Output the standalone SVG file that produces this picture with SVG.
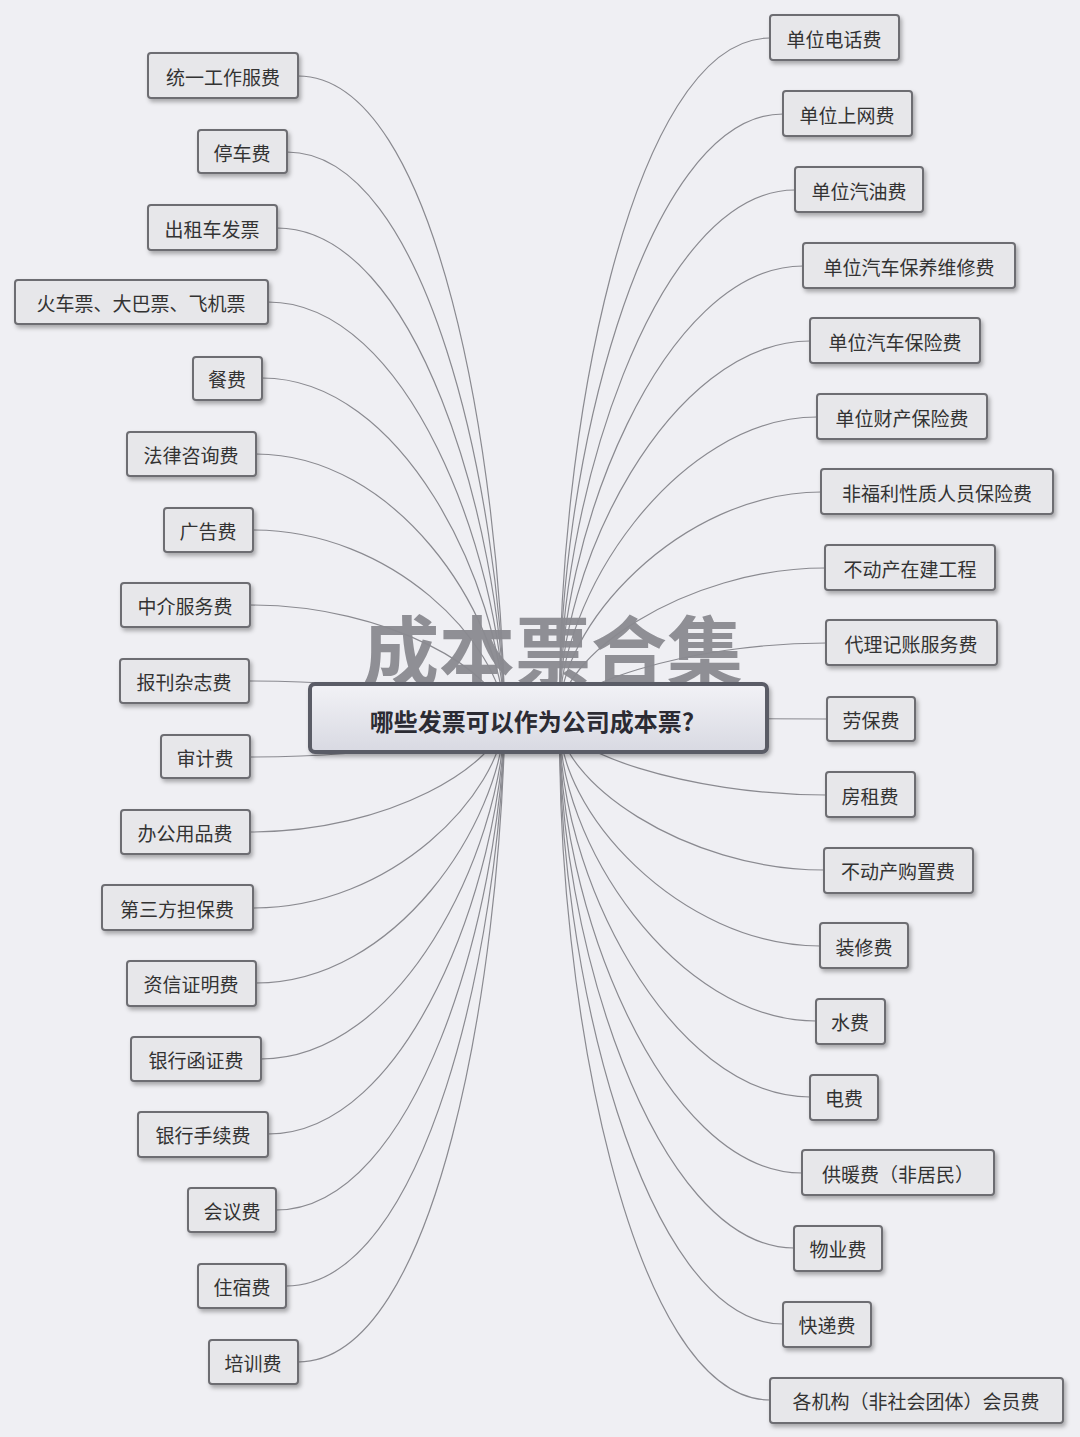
<svg xmlns="http://www.w3.org/2000/svg" width="1080" height="1437" viewBox="0 0 1080 1437">
<defs>
<filter id="sh" x="-10%" y="-20%" width="130%" height="150%"><feDropShadow dx="2" dy="3" stdDeviation="2" flood-color="#000" flood-opacity="0.3"/></filter>
<linearGradient id="cg" x1="0" y1="0" x2="0" y2="1"><stop offset="0" stop-color="#f2f2f6"/><stop offset="1" stop-color="#d8d9e2"/></linearGradient>
</defs>
<style>
.n rect{fill:#e7e7ea;stroke:#6d6d72;stroke-width:2;filter:url(#sh)}
.n text{font-family:"Noto Sans CJK SC","Liberation Sans",sans-serif;font-size:19px;fill:#333;text-anchor:middle;dominant-baseline:central}
#edges path{fill:none;stroke:#8a8a90;stroke-width:1.2}
</style>
<rect width="1080" height="1437" fill="#efeff3"/>
<text x="553" y="680" font-family="Noto Sans CJK SC,sans-serif" font-size="76" font-weight="bold" fill="#77777d" fill-opacity="0.8" text-anchor="middle">成本票合集</text>
<g id="edges">
<path d="M298,76 C438,76 500,461 505,718"/>
<path d="M287,152 C427,152 500,492 505,718"/>
<path d="M277,228 C417,228 500,522 505,718"/>
<path d="M268,302 C408,302 500,552 505,718"/>
<path d="M262,378 C402,378 500,582 505,718"/>
<path d="M256,454 C396,454 500,612 505,718"/>
<path d="M253,530 C393,530 500,643 505,718"/>
<path d="M250,605 C390,605 500,673 505,718"/>
<path d="M249,681 C389,681 500,703 505,718"/>
<path d="M250,757 C390,757 500,734 505,718"/>
<path d="M250,832 C390,832 500,764 505,718"/>
<path d="M253,908 C393,908 500,794 505,718"/>
<path d="M256,983 C396,983 500,824 505,718"/>
<path d="M261,1059 C401,1059 500,854 505,718"/>
<path d="M268,1134 C408,1134 500,884 505,718"/>
<path d="M276,1210 C416,1210 500,915 505,718"/>
<path d="M286,1286 C426,1286 500,945 505,718"/>
<path d="M298,1362 C438,1362 500,976 505,718"/>
<path d="M770,38 C630,38 555,446 560,718"/>
<path d="M783,114 C643,114 555,476 560,718"/>
<path d="M795,190 C655,190 555,507 560,718"/>
<path d="M803,266 C663,266 555,537 560,718"/>
<path d="M810,341 C670,341 555,567 560,718"/>
<path d="M817,417 C677,417 555,598 560,718"/>
<path d="M821,492 C681,492 555,628 560,718"/>
<path d="M825,568 C685,568 555,658 560,718"/>
<path d="M826,643 C686,643 555,688 560,718"/>
<path d="M827,719 L560,718"/>
<path d="M826,795 C686,795 555,749 560,718"/>
<path d="M824,870 C684,870 555,779 560,718"/>
<path d="M820,946 C680,946 555,809 560,718"/>
<path d="M816,1021 C676,1021 555,839 560,718"/>
<path d="M810,1097 C670,1097 555,870 560,718"/>
<path d="M802,1173 C662,1173 555,900 560,718"/>
<path d="M794,1248 C654,1248 555,930 560,718"/>
<path d="M783,1324 C643,1324 555,960 560,718"/>
<path d="M770,1400 C630,1400 555,991 560,718"/>
</g>
<g id="center"><rect x="310" y="684" width="457" height="68" rx="5" fill="url(#cg)" stroke="#5a5b66" stroke-width="4" filter="url(#sh)"/>
<text x="532" y="720" font-family="Noto Sans CJK SC,sans-serif" font-size="24" font-weight="bold" fill="#2b2b33" text-anchor="middle" dominant-baseline="central">哪些发票可以作为公司成本票?</text></g>
<g id="l1" class="n"><rect x="148" y="53" width="150" height="45" rx="3"/><text x="223" y="76">统一工作服费</text></g>
<g id="l2" class="n"><rect x="198" y="130" width="89" height="43" rx="3"/><text x="242" y="152">停车费</text></g>
<g id="l3" class="n"><rect x="148" y="205" width="129" height="45" rx="3"/><text x="212" y="228">出租车发票</text></g>
<g id="l4" class="n"><rect x="15" y="280" width="253" height="44" rx="3"/><text x="141" y="302">火车票、大巴票、飞机票</text></g>
<g id="l5" class="n"><rect x="193" y="357" width="69" height="43" rx="3"/><text x="227" y="378">餐费</text></g>
<g id="l6" class="n"><rect x="127" y="432" width="129" height="44" rx="3"/><text x="191" y="454">法律咨询费</text></g>
<g id="l7" class="n"><rect x="164" y="508" width="89" height="44" rx="3"/><text x="208" y="530">广告费</text></g>
<g id="l8" class="n"><rect x="121" y="583" width="129" height="44" rx="3"/><text x="185" y="605">中介服务费</text></g>
<g id="l9" class="n"><rect x="120" y="659" width="129" height="44" rx="3"/><text x="184" y="681">报刊杂志费</text></g>
<g id="l10" class="n"><rect x="161" y="735" width="89" height="43" rx="3"/><text x="205" y="757">审计费</text></g>
<g id="l11" class="n"><rect x="121" y="810" width="129" height="44" rx="3"/><text x="185" y="832">办公用品费</text></g>
<g id="l12" class="n"><rect x="102" y="885" width="151" height="45" rx="3"/><text x="177" y="908">第三方担保费</text></g>
<g id="l13" class="n"><rect x="127" y="961" width="129" height="45" rx="3"/><text x="191" y="983">资信证明费</text></g>
<g id="l14" class="n"><rect x="131" y="1037" width="130" height="44" rx="3"/><text x="196" y="1059">银行函证费</text></g>
<g id="l15" class="n"><rect x="138" y="1112" width="130" height="45" rx="3"/><text x="203" y="1134">银行手续费</text></g>
<g id="l16" class="n"><rect x="188" y="1188" width="88" height="44" rx="3"/><text x="232" y="1210">会议费</text></g>
<g id="l17" class="n"><rect x="198" y="1264" width="88" height="44" rx="3"/><text x="242" y="1286">住宿费</text></g>
<g id="l18" class="n"><rect x="209" y="1340" width="89" height="44" rx="3"/><text x="253" y="1362">培训费</text></g>
<g id="r1" class="n"><rect x="770" y="15" width="129" height="45" rx="3"/><text x="834" y="38">单位电话费</text></g>
<g id="r2" class="n"><rect x="783" y="91" width="129" height="45" rx="3"/><text x="847" y="114">单位上网费</text></g>
<g id="r3" class="n"><rect x="795" y="167" width="128" height="45" rx="3"/><text x="859" y="190">单位汽油费</text></g>
<g id="r4" class="n"><rect x="803" y="243" width="212" height="45" rx="3"/><text x="909" y="266">单位汽车保养维修费</text></g>
<g id="r5" class="n"><rect x="810" y="318" width="170" height="45" rx="3"/><text x="895" y="341">单位汽车保险费</text></g>
<g id="r6" class="n"><rect x="817" y="394" width="170" height="45" rx="3"/><text x="902" y="417">单位财产保险费</text></g>
<g id="r7" class="n"><rect x="821" y="469" width="232" height="45" rx="3"/><text x="937" y="492">非福利性质人员保险费</text></g>
<g id="r8" class="n"><rect x="825" y="545" width="170" height="45" rx="3"/><text x="910" y="568">不动产在建工程</text></g>
<g id="r9" class="n"><rect x="826" y="620" width="171" height="45" rx="3"/><text x="911" y="643">代理记账服务费</text></g>
<g id="r10" class="n"><rect x="827" y="697" width="88" height="44" rx="3"/><text x="871" y="719">劳保费</text></g>
<g id="r11" class="n"><rect x="826" y="772" width="89" height="45" rx="3"/><text x="870" y="795">房租费</text></g>
<g id="r12" class="n"><rect x="824" y="848" width="149" height="45" rx="3"/><text x="898" y="870">不动产购置费</text></g>
<g id="r13" class="n"><rect x="820" y="923" width="88" height="45" rx="3"/><text x="864" y="946">装修费</text></g>
<g id="r14" class="n"><rect x="816" y="999" width="69" height="45" rx="3"/><text x="850" y="1021">水费</text></g>
<g id="r15" class="n"><rect x="810" y="1075" width="68" height="45" rx="3"/><text x="844" y="1097">电费</text></g>
<g id="r16" class="n"><rect x="802" y="1150" width="192" height="45" rx="3"/><text x="898" y="1173">供暖费（非居民）</text></g>
<g id="r17" class="n"><rect x="794" y="1226" width="88" height="45" rx="3"/><text x="838" y="1248">物业费</text></g>
<g id="r18" class="n"><rect x="783" y="1302" width="88" height="45" rx="3"/><text x="827" y="1324">快递费</text></g>
<g id="r19" class="n"><rect x="770" y="1378" width="293" height="45" rx="3"/><text x="916" y="1400">各机构（非社会团体）会员费</text></g>
</svg>
